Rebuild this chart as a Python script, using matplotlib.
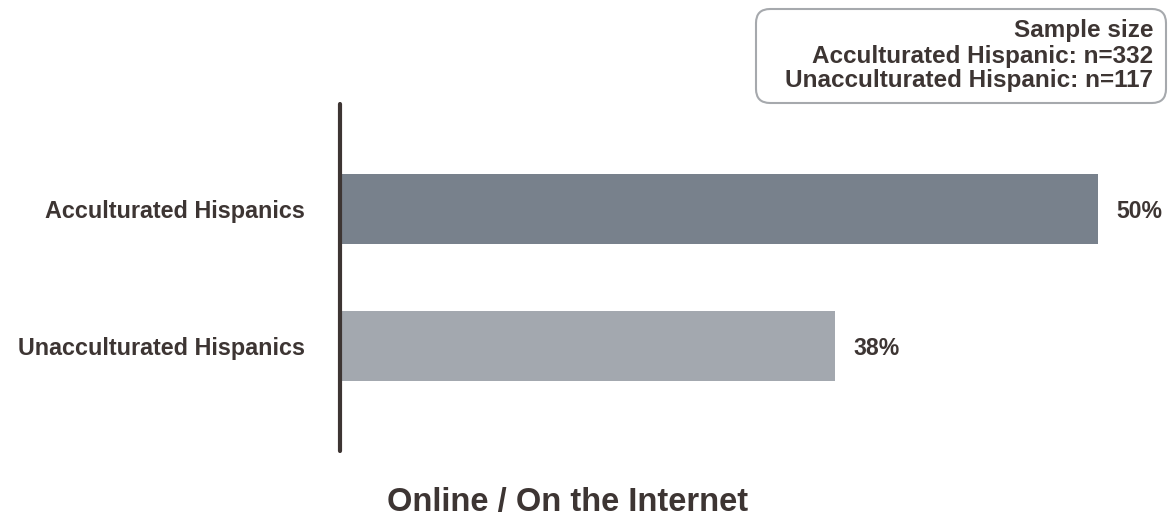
import matplotlib.pyplot as plt
from matplotlib.patches import FancyBboxPatch

plt.rcParams['font.family'] = ['Liberation Sans', 'DejaVu Sans']

groups = ["Acculturated Hispanics", "Unacculturated Hispanics"]
shares = [50, 38]
bar_colors = ["#78818c", "#a3a8af"]
sample_lines = ["Sample size", "Acculturated Hispanic: n=332", "Unacculturated Hispanic: n=117"]
title = "Online / On the Internet"

ink = "#3d3533"

fig = plt.figure(figsize=(11.76, 5.17), dpi=100)
ax = fig.add_axes([340 / 1176, 66 / 517, 836 / 1176, 347 / 517])

ypos = [1, 0]
ax.barh(ypos, shares, height=0.51, left=0, color=bar_colors)
for y, v in zip(ypos, shares):
    ax.text(v + 0.85, y - 0.02, f"{v}%", va="center", ha="left",
            fontsize=16.6, fontweight="bold", color=ink)

ax.set_xlim(15.38, 53.58)
ax.set_ylim(-0.766, 1.766)
ax.set_yticks(ypos)
ax.set_yticklabels(groups, fontsize=16.8, fontweight="bold", color=ink)
ax.tick_params(axis="y", length=0, pad=25)
ax.set_xticks([])
for s in ["top", "right", "bottom"]:
    ax.spines[s].set_visible(False)
ax.spines["left"].set_color(ink)
ax.spines["left"].set_linewidth(3)
ax.spines["left"].set_capstyle("round")

fig.text(568 / 1176, 1 - 503 / 517, title, ha="center", va="center",
         fontsize=23.5, fontweight="bold", color=ink)

# sample size box in the top right corner
box = FancyBboxPatch((756 / 1176, 1 - 103 / 517), 410 / 1176, 94 / 517,
                     boxstyle="round,pad=0,rounding_size=0.012",
                     transform=fig.transFigure, facecolor="white",
                     edgecolor="#a6a9ad", linewidth=1.5, mutation_aspect=2.27)
fig.patches.append(box)
for i, line in enumerate(sample_lines):
    fig.text(1153 / 1176, 1 - (31 + 25 * i) / 517, line, ha="right", va="center",
             fontsize=17.5, fontweight="bold", color=ink)

fig.savefig("out.png", dpi=100)
